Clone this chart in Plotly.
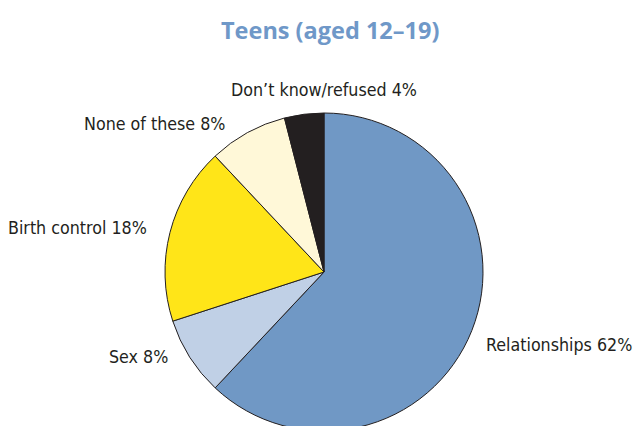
import plotly.graph_objects as go

# Survey shares, clockwise from 12 o'clock
categories = ["Relationships", "Sex", "Birth control", "None of these", "Don\u2019t know/refused"]
shares = [62, 8, 18, 8, 4]
colors = ["#7098c5", "#c0d0e6", "#ffe518", "#fff8d8", "#231f20"]

title_text = "Teens (aged 12\u201319)"

W, H = 633, 440
cx, cy, r = 324, 272, 159  # pie centre and radius in pixels (top-left origin)

fig = go.Figure(
    go.Pie(
        labels=categories,
        values=shares,
        sort=False,
        direction="clockwise",
        rotation=0,
        marker=dict(colors=colors, line=dict(color="#231f20", width=1)),
        textinfo="none",
        hoverinfo="label+percent",
        showlegend=False,
        domain=dict(
            x=[(cx - r) / W, (cx + r) / W],
            y=[1 - (cy + r) / H, 1 - (cy - r) / H],
        ),
    )
)

# Label placement: (x px, y px, anchor)
label_pos = [
    (484, 345, "left"),
    (170, 357, "right"),
    (149, 228, "right"),
    (227, 124, "right"),
    (419, 90, "right"),
]

label_font = dict(family="DejaVu Sans Condensed, Roboto Condensed, sans-serif", size=17.7, color="#231f20")

annotations = []
for name, val, (lx, ly, anchor) in zip(categories, shares, label_pos):
    annotations.append(dict(
        x=lx / W, y=1 - ly / H, xref="paper", yref="paper",
        text=f"{name} {val}%", showarrow=False,
        xanchor=anchor, yanchor="middle",
        font=label_font,
    ))

annotations.append(dict(
    x=330 / W, y=1 - 30 / H, xref="paper", yref="paper",
    text=f"<b>{title_text}</b>", showarrow=False,
    xanchor="center", yanchor="middle",
    font=dict(family="Open Sans", size=23.5, color="#6f98c8"),
))

fig.update_layout(
    width=W, height=H,
    margin=dict(l=0, r=0, t=0, b=0),
    paper_bgcolor="white", plot_bgcolor="white",
    annotations=annotations,
)

fig.write_html(
    "out.html",
    post_script="document.documentElement.style.overflow='hidden';document.body.style.overflow='hidden';document.body.style.margin='0';",
)
